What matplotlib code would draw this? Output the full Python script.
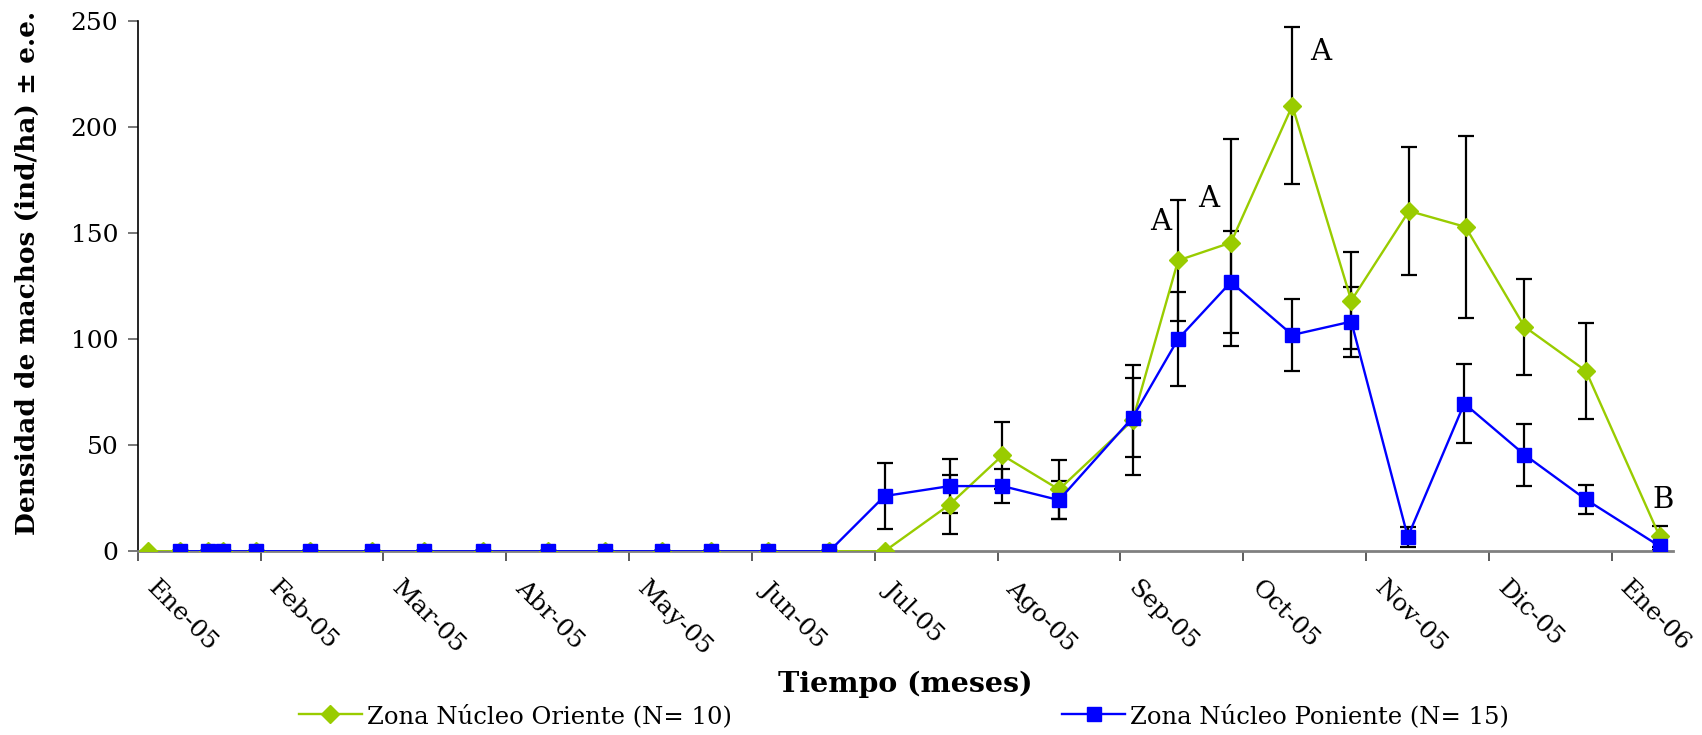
# ============================================================
# Densidad de machos por zona nucleo (Ene-05 a Ene-06)
# ============================================================

import matplotlib
matplotlib.use("Agg")
import matplotlib.pyplot as plt
from matplotlib.transforms import ScaledTranslation

# ------------------------------------------------------------
# Data (x in months since Ene-05)
# ------------------------------------------------------------

month_labels = ["Ene-05", "Feb-05", "Mar-05", "Abr-05", "May-05", "Jun-05", "Jul-05",
                "Ago-05", "Sep-05", "Oct-05", "Nov-05", "Dic-05", "Ene-06"]

oriente_x = [0.08, 0.34, 0.57, 0.69, 0.96, 1.40, 1.91, 2.33, 2.81, 3.34, 3.80, 4.27,
             4.67, 5.13, 5.63, 6.08, 6.61, 7.04, 7.50, 8.10, 8.47, 8.90, 9.40, 9.88,
             10.35, 10.81, 11.29, 11.79, 12.39]
oriente_y = [0, 0, 0, 0, 0, 0, 0, 0, 0, 0, 0, 0, 0, 0, 0, 0, 22.0, 45.2, 29.1, 61.7,
             137.0, 145.4, 209.9, 118.1, 160.3, 152.8, 105.8, 85.0, 7.1]
oriente_err = [0, 0, 0, 0, 0, 0, 0, 0, 0, 0, 0, 0, 0, 0, 0, 0, 13.7, 15.7, 14.1, 26.0,
               28.7, 48.8, 37.0, 23.0, 30.0, 43.0, 22.6, 22.5, 5.0]

poniente_x = [0.34, 0.57, 0.69, 0.96, 1.40, 1.91, 2.33, 2.81, 3.34, 3.80, 4.27, 4.67,
              5.13, 5.63, 6.08, 6.61, 7.04, 7.50, 8.10, 8.47, 8.90, 9.40, 9.88, 10.34,
              10.80, 11.29, 11.79, 12.39]
poniente_y = [0, 0, 0, 0, 0, 0, 0, 0, 0, 0, 0, 0, 0, 0, 26.0, 30.7, 30.7, 24.1, 63.0,
              100.0, 126.8, 101.9, 108.2, 6.8, 69.6, 45.5, 24.4, 2.4]
poniente_err = [0, 0, 0, 0, 0, 0, 0, 0, 0, 0, 0, 0, 0, 0, 15.5, 12.6, 8.0, 8.8, 18.5,
                22.0, 24.0, 17.0, 16.5, 4.7, 18.5, 14.6, 6.7, 2.0]

letters = ["A", "A", "A", "B"]
letter_x = [8.33, 8.72, 9.63, 12.42]
letter_y = [155, 166, 235, 24]

# ------------------------------------------------------------
# Plot
# ------------------------------------------------------------

plt.rcParams["font.family"] = ["DejaVu Serif"]

fig = plt.figure(figsize=(17.02, 7.35), dpi=100)
ax = fig.add_axes([0.081, 0.250, 0.902, 0.722])

ax.errorbar(oriente_x, oriente_y, yerr=oriente_err, fmt="none", ecolor="black",
            elinewidth=1.6, capsize=6, capthick=1.6, zorder=2)
ax.errorbar(poniente_x, poniente_y, yerr=poniente_err, fmt="none", ecolor="black",
            elinewidth=1.6, capsize=6, capthick=1.6, zorder=2)

l1, = ax.plot(oriente_x, oriente_y, color="#99cc00", lw=1.7, marker="D", ms=9,
              label="Zona Núcleo Oriente (N= 10)", zorder=3)
l2, = ax.plot(poniente_x, poniente_y, color="#0000ff", lw=1.7, marker="s", ms=9.5,
              label="Zona Núcleo Poniente (N= 15)", zorder=4)

for t, x, y in zip(letters, letter_x, letter_y):
    ax.text(x, y, t, fontsize=21, ha="center", va="center")

ax.set_xlim(0, 12.5)
ax.set_ylim(0, 250)
ax.set_yticks([0, 50, 100, 150, 200, 250])
ax.set_xticks(range(len(month_labels)))
ax.tick_params(axis="y", labelsize=18, length=7, width=1.2, direction="out", pad=7,
               color="#606060")
ax.tick_params(axis="x", length=7, width=1.2, direction="out", pad=17, color="#404040")
ax.set_xticklabels(month_labels, rotation=-45, ha="left", va="center",
                   rotation_mode="anchor", fontsize=18)

# nudge the slanted month labels right of their tick (done after tick_params)
shift = ScaledTranslation(0.12, 0, fig.dpi_scale_trans)
for lab in ax.get_xticklabels():
    lab.set_transform(lab.get_transform() + shift)

ax.spines["top"].set_visible(False)
ax.spines["right"].set_visible(False)
ax.spines["left"].set_linewidth(1.2)
ax.spines["bottom"].set_color("#808080")
ax.spines["bottom"].set_linewidth(2)

ax.set_xlabel("Tiempo (meses)", fontsize=20.5, fontweight="bold")
ax.xaxis.set_label_coords(0.5, -0.25)
ax.xaxis.label.set_va("center")
ax.set_ylabel("Densidad de machos (ind/ha) ± e.e.", fontsize=19, fontweight="bold")
ax.yaxis.set_label_coords(-0.072, 0.524)
ax.yaxis.label.set_va("center")

leg1 = fig.legend(handles=[l1], loc="center left", bbox_to_anchor=(0.1755, 0.026),
                  frameon=False, fontsize=17.5, handlelength=2.6, handletextpad=0.2,
                  borderpad=0, borderaxespad=0)
leg2 = fig.legend(handles=[l2], loc="center left", bbox_to_anchor=(0.624, 0.026),
                  frameon=False, fontsize=17.5, handlelength=2.6, handletextpad=0.2,
                  borderpad=0, borderaxespad=0)

plt.savefig("out.png", dpi=100)
